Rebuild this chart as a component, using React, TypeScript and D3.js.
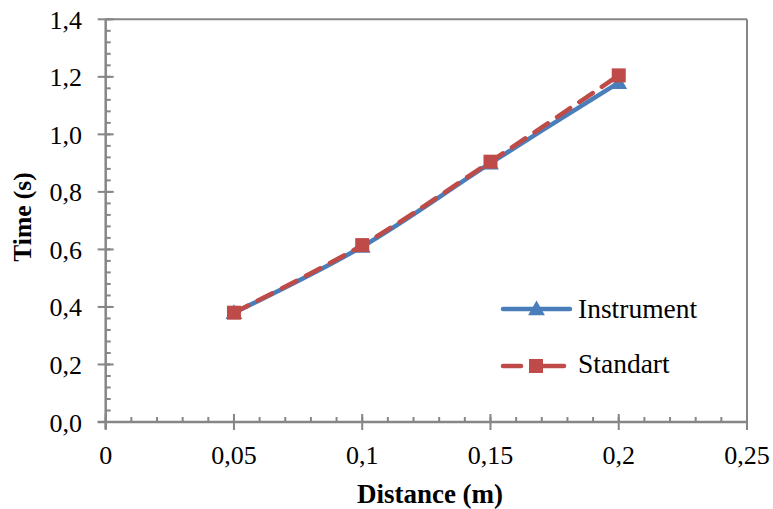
import React from "react";
import * as d3 from "d3";

const distances = [0.05, 0.1, 0.15, 0.2];
const instrument = [0.38, 0.61, 0.9, 1.18];
const standart = [0.38, 0.615, 0.905, 1.205];
const xTicks = [0, 0.05, 0.1, 0.15, 0.2, 0.25];
const xTickLabels = ["0", "0,05", "0,1", "0,15", "0,2", "0,25"];
const yTicks = [0, 0.2, 0.4, 0.6, 0.8, 1.0, 1.2, 1.4];
const yTickLabels = ["0,0", "0,2", "0,4", "0,6", "0,8", "1,0", "1,2", "1,4"];
const seriesNames = ["Instrument", "Standart"];

const BLUE = "#4A7EBB";
const RED = "#BE4B48";
const AXIS = "#868686";
const FONT = '"Liberation Serif", "Times New Roman", Times, serif';

export default function App() {
  const W = 773, H = 509;
  const x = d3.scaleLinear().domain([0, 0.25]).range([105.7, 747]);
  const y = d3.scaleLinear().domain([0, 1.4]).range([422, 19.3]);
  const line = d3
    .line<[number, number]>()
    .x((d) => x(d[0]))
    .y((d) => y(d[1]))
    .curve(d3.curveCatmullRom.alpha(0.5));
  const instPts = distances.map((d, i) => [d, instrument[i]] as [number, number]);
  const stdPts = distances.map((d, i) => [d, standart[i]] as [number, number]);

  const xMinor = d3.range(0, 26).map((i) => i * 0.01);
  const yMinor = d3.range(0, 36).map((i) => i * 0.04);

  const tri = (cx: number, cy: number, s: number) =>
    `M${cx},${cy - s * 0.6} L${cx + s * 0.6},${cy + s * 0.45} L${cx - s * 0.6},${cy + s * 0.45} Z`;

  const txt = { fontFamily: FONT, fill: "#000" } as React.CSSProperties;

  return (
    <svg width={W} height={H} style={{ position: "absolute", left: 0, top: 0, background: "#fff" }}>
      <line x1={x(0)} x2={x(0.25)} y1={y(1.4)} y2={y(1.4)} stroke={AXIS} strokeWidth={2} />
      <line x1={x(0.25)} x2={x(0.25)} y1={y(1.4)} y2={y(0)} stroke={AXIS} strokeWidth={2} />
      <line x1={x(0)} x2={x(0)} y1={y(1.4)} y2={y(0) + 7} stroke={AXIS} strokeWidth={2.5} />
      <line x1={x(0) - 8} x2={x(0.25)} y1={y(0)} y2={y(0)} stroke={AXIS} strokeWidth={2.5} />
      {yMinor.map((v, i) => (
        <line key={"ym" + i} x1={x(0)} x2={x(0) + 5} y1={y(v)} y2={y(v)} stroke={AXIS} strokeWidth={2} />
      ))}
      {yTicks.map((v, i) => (
        <line key={"yM" + i} x1={x(0) - 8} x2={x(0) + 8} y1={y(v)} y2={y(v)} stroke={AXIS} strokeWidth={2} />
      ))}
      {xMinor.map((v, i) => (
        <line key={"xm" + i} x1={x(v)} x2={x(v)} y1={y(0)} y2={y(0) - 5} stroke={AXIS} strokeWidth={2} />
      ))}
      {xTicks.map((v, i) => (
        <line key={"xM" + i} x1={x(v)} x2={x(v)} y1={y(0) - 8} y2={y(0) + 8} stroke={AXIS} strokeWidth={2} />
      ))}
      {yTicks.map((v, i) => (
        <text key={"yl" + i} x={82} y={y(v) + 9.5} textAnchor="end" style={{ ...txt, fontSize: 26 }}>
          {yTickLabels[i]}
        </text>
      ))}
      {xTicks.map((v, i) => (
        <text key={"xl" + i} x={x(v)} y={464} textAnchor="middle" style={{ ...txt, fontSize: 26 }}>
          {xTickLabels[i]}
        </text>
      ))}
      <text x={430} y={503} textAnchor="middle" style={{ ...txt, fontSize: 27, fontWeight: "bold" }}>
        Distance (m)
      </text>
      <text
        transform={`translate(31,217) rotate(-90)`}
        textAnchor="middle"
        style={{ ...txt, fontSize: 25.5, fontWeight: "bold" }}
      >
        Time (s)
      </text>
      <path d={line(instPts) || ""} fill="none" stroke={BLUE} strokeWidth={4.5} strokeLinecap="round" strokeLinejoin="round" />
      {instPts.map((p, i) => (
        <path key={"t" + i} d={tri(x(p[0]), y(p[1]), 14)} fill={BLUE} />
      ))}
      <path
        d={line(stdPts) || ""}
        fill="none"
        stroke={RED}
        strokeWidth={4.5}
        strokeDasharray="16 11"
        strokeLinecap="round"
        strokeLinejoin="round"
      />
      {stdPts.map((p, i) => (
        <rect key={"s" + i} x={x(p[0]) - 7} y={y(p[1]) - 7} width={14} height={14} fill={RED} />
      ))}
      <line x1={503} x2={570} y1={309} y2={309} stroke={BLUE} strokeWidth={4.5} strokeLinecap="round" />
      <path d={tri(536.5, 309, 14)} fill={BLUE} />
      <text x={578} y={318} style={{ ...txt, fontSize: 27.5 }}>
        {seriesNames[0]}
      </text>
      <line x1={503} x2={521} y1={366} y2={366} stroke={RED} strokeWidth={4.5} strokeLinecap="round" />
      <line x1={543} x2={564} y1={366} y2={366} stroke={RED} strokeWidth={4.5} strokeLinecap="round" />
      <rect x={529} y={359} width={14} height={14} fill={RED} />
      <text x={578} y={373} style={{ ...txt, fontSize: 27.5 }}>
        {seriesNames[1]}
      </text>
    </svg>
  );
}
